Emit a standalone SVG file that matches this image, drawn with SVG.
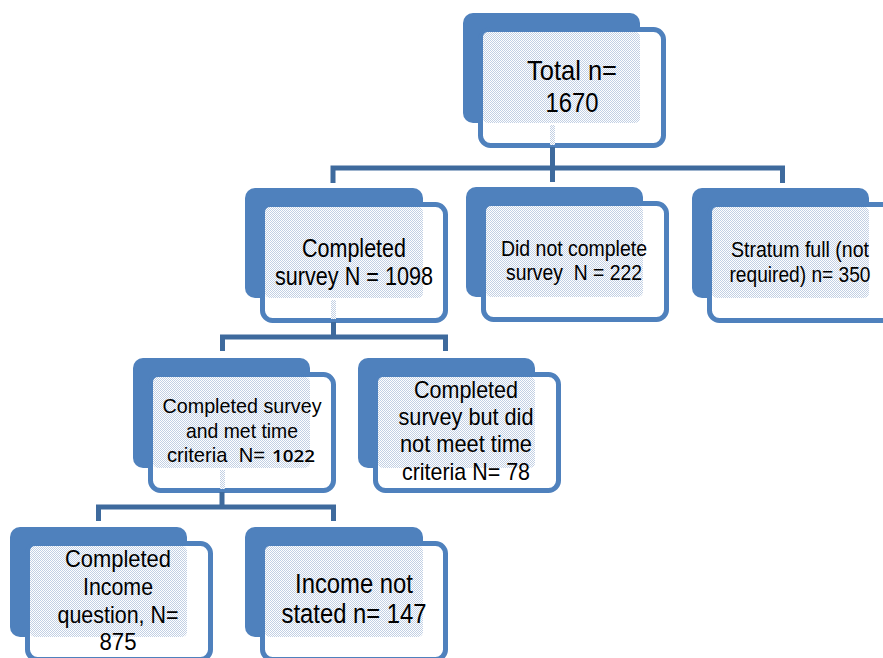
<svg xmlns="http://www.w3.org/2000/svg" width="883" height="658" viewBox="0 0 883 658">
<defs>
<pattern id="dots" width="2" height="2" patternUnits="userSpaceOnUse">
<rect width="2" height="2" fill="#ffffff"/>
<rect x="0" y="0" width="1" height="1" fill="#C2D0E4"/>
<rect x="1" y="1" width="1" height="1" fill="#C2D0E4"/>
</pattern>
<style>
.back{fill:#4F81BD;}
.front{fill:#ffffff;stroke:#4F81BD;stroke-width:5;}
.pat{fill:url(#dots);}
.t{font-family:"Liberation Sans Narrow","Arial Narrow","Liberation Sans",sans-serif;fill:#000;text-anchor:middle;}
.conn{fill:none;stroke:#3E6A9D;stroke-width:5;stroke-linecap:butt;stroke-linejoin:miter;}
.stub{fill:url(#dots);}
</style>
</defs>
<rect width="883" height="658" fill="#ffffff"/>

<g id="node-total">
<rect class="back" x="463" y="13" width="177" height="110" rx="10"/>
<rect class="front" x="480.5" y="29.5" width="183" height="116" rx="10"/>
<rect class="pat" x="483" y="32" width="157" height="91" rx="5"/>
<text class="t" font-size="28" x="572" y="80" textLength="90" lengthAdjust="spacingAndGlyphs">Total n=</text>
<text class="t" font-size="28" x="572" y="112" textLength="53" lengthAdjust="spacingAndGlyphs">1670</text>
</g>

<g id="node-completed">
<rect class="back" x="245" y="188" width="178" height="110" rx="10"/>
<rect class="front" x="262.5" y="204.5" width="183" height="116" rx="10"/>
<rect class="pat" x="265" y="207" width="158" height="91" rx="5"/>
<text class="t" font-size="25" x="354" y="257" textLength="104" lengthAdjust="spacingAndGlyphs">Completed</text>
<text class="t" font-size="25" x="354" y="285" textLength="158" lengthAdjust="spacingAndGlyphs">survey N = 1098</text>
</g>

<g id="node-notcomplete">
<rect class="back" x="466" y="187" width="177" height="110" rx="10"/>
<rect class="front" x="483.5" y="203.5" width="183" height="116" rx="10"/>
<rect class="pat" x="486" y="206" width="157" height="91" rx="5"/>
<text class="t" font-size="22" x="574" y="256" textLength="146" lengthAdjust="spacingAndGlyphs">Did not complete</text>
<text class="t" font-size="22" x="574" y="280" textLength="136" lengthAdjust="spacingAndGlyphs" xml:space="preserve">survey  N = 222</text>
</g>

<g id="node-stratum">
<rect class="back" x="692" y="188" width="177" height="110" rx="10"/>
<rect class="front" x="709.5" y="204.5" width="183" height="116" rx="10"/>
<rect class="pat" x="712" y="207" width="157" height="91" rx="5"/>
<text class="t" font-size="22" x="800" y="257" textLength="138" lengthAdjust="spacingAndGlyphs">Stratum full (not</text>
<text class="t" font-size="22" x="800" y="282" textLength="141" lengthAdjust="spacingAndGlyphs">required) n= 350</text>
</g>

<g id="node-mettime">
<rect class="back" x="133" y="358" width="177" height="110" rx="10"/>
<rect class="front" x="150.5" y="374.5" width="183" height="116" rx="10"/>
<rect class="pat" x="153" y="377" width="157" height="91" rx="5"/>
<text class="t" font-size="21" x="242" y="413" textLength="159" lengthAdjust="spacingAndGlyphs">Completed survey</text>
<text class="t" font-size="21" x="242" y="438" textLength="112" lengthAdjust="spacingAndGlyphs">and met time</text>
<text class="t" font-size="21" x="167" y="462" style="text-anchor:start" textLength="98" lengthAdjust="spacingAndGlyphs" xml:space="preserve">criteria  N=</text>
<text x="272" y="462" font-family="'Open Sans','Noto Sans',sans-serif" font-weight="600" font-size="17" fill="#000" textLength="43" lengthAdjust="spacingAndGlyphs">1022</text>
</g>

<g id="node-notmettime">
<rect class="back" x="358" y="358" width="177" height="110" rx="10"/>
<rect class="front" x="375.5" y="374.5" width="183" height="116" rx="10"/>
<rect class="pat" x="378" y="377" width="157" height="91" rx="5"/>
<text class="t" font-size="24" x="466" y="398" textLength="104" lengthAdjust="spacingAndGlyphs">Completed</text>
<text class="t" font-size="24" x="466" y="425" textLength="135" lengthAdjust="spacingAndGlyphs">survey but did</text>
<text class="t" font-size="24" x="466" y="452" textLength="132" lengthAdjust="spacingAndGlyphs">not meet time</text>
<text class="t" font-size="24" x="466" y="480" textLength="128" lengthAdjust="spacingAndGlyphs">criteria N= 78</text>
</g>

<g id="node-income">
<rect class="back" x="10" y="527" width="177" height="110" rx="10"/>
<rect class="front" x="27.5" y="543.5" width="183" height="116" rx="10"/>
<rect class="pat" x="30" y="546" width="157" height="91" rx="5"/>
<text class="t" font-size="24" x="118" y="567" textLength="106" lengthAdjust="spacingAndGlyphs">Completed</text>
<text class="t" font-size="24" x="118" y="595" textLength="70" lengthAdjust="spacingAndGlyphs">Income</text>
<text class="t" font-size="24" x="118" y="623" textLength="121" lengthAdjust="spacingAndGlyphs">question, N=</text>
<text class="t" font-size="24" x="118" y="650" textLength="37" lengthAdjust="spacingAndGlyphs">875</text>
</g>

<g id="node-incomenot">
<rect class="back" x="245" y="527" width="178" height="110" rx="10"/>
<rect class="front" x="262.5" y="543.5" width="183" height="116" rx="10"/>
<rect class="pat" x="265" y="546" width="158" height="91" rx="5"/>
<text class="t" font-size="27" x="354" y="593" textLength="118" lengthAdjust="spacingAndGlyphs">Income not</text>
<text class="t" font-size="27" x="354" y="623" textLength="145" lengthAdjust="spacingAndGlyphs">stated n= 147</text>
</g>

<g id="connectors">
<rect class="stub" x="550" y="125" width="5" height="20"/>
<rect class="stub" x="331" y="300" width="5" height="19"/>
<rect class="stub" x="220" y="470" width="5" height="19"/>
<path class="conn" d="M552.5 147 V168 M333 183 V168 H782.5 V183 M552.5 168 V182"/>
<path class="conn" d="M333.5 322 V337 M222.5 351 V337 H445.5 V351"/>
<path class="conn" d="M222 492 V507 M98.5 521 V507 H333.5 V521"/>
</g>
</svg>
